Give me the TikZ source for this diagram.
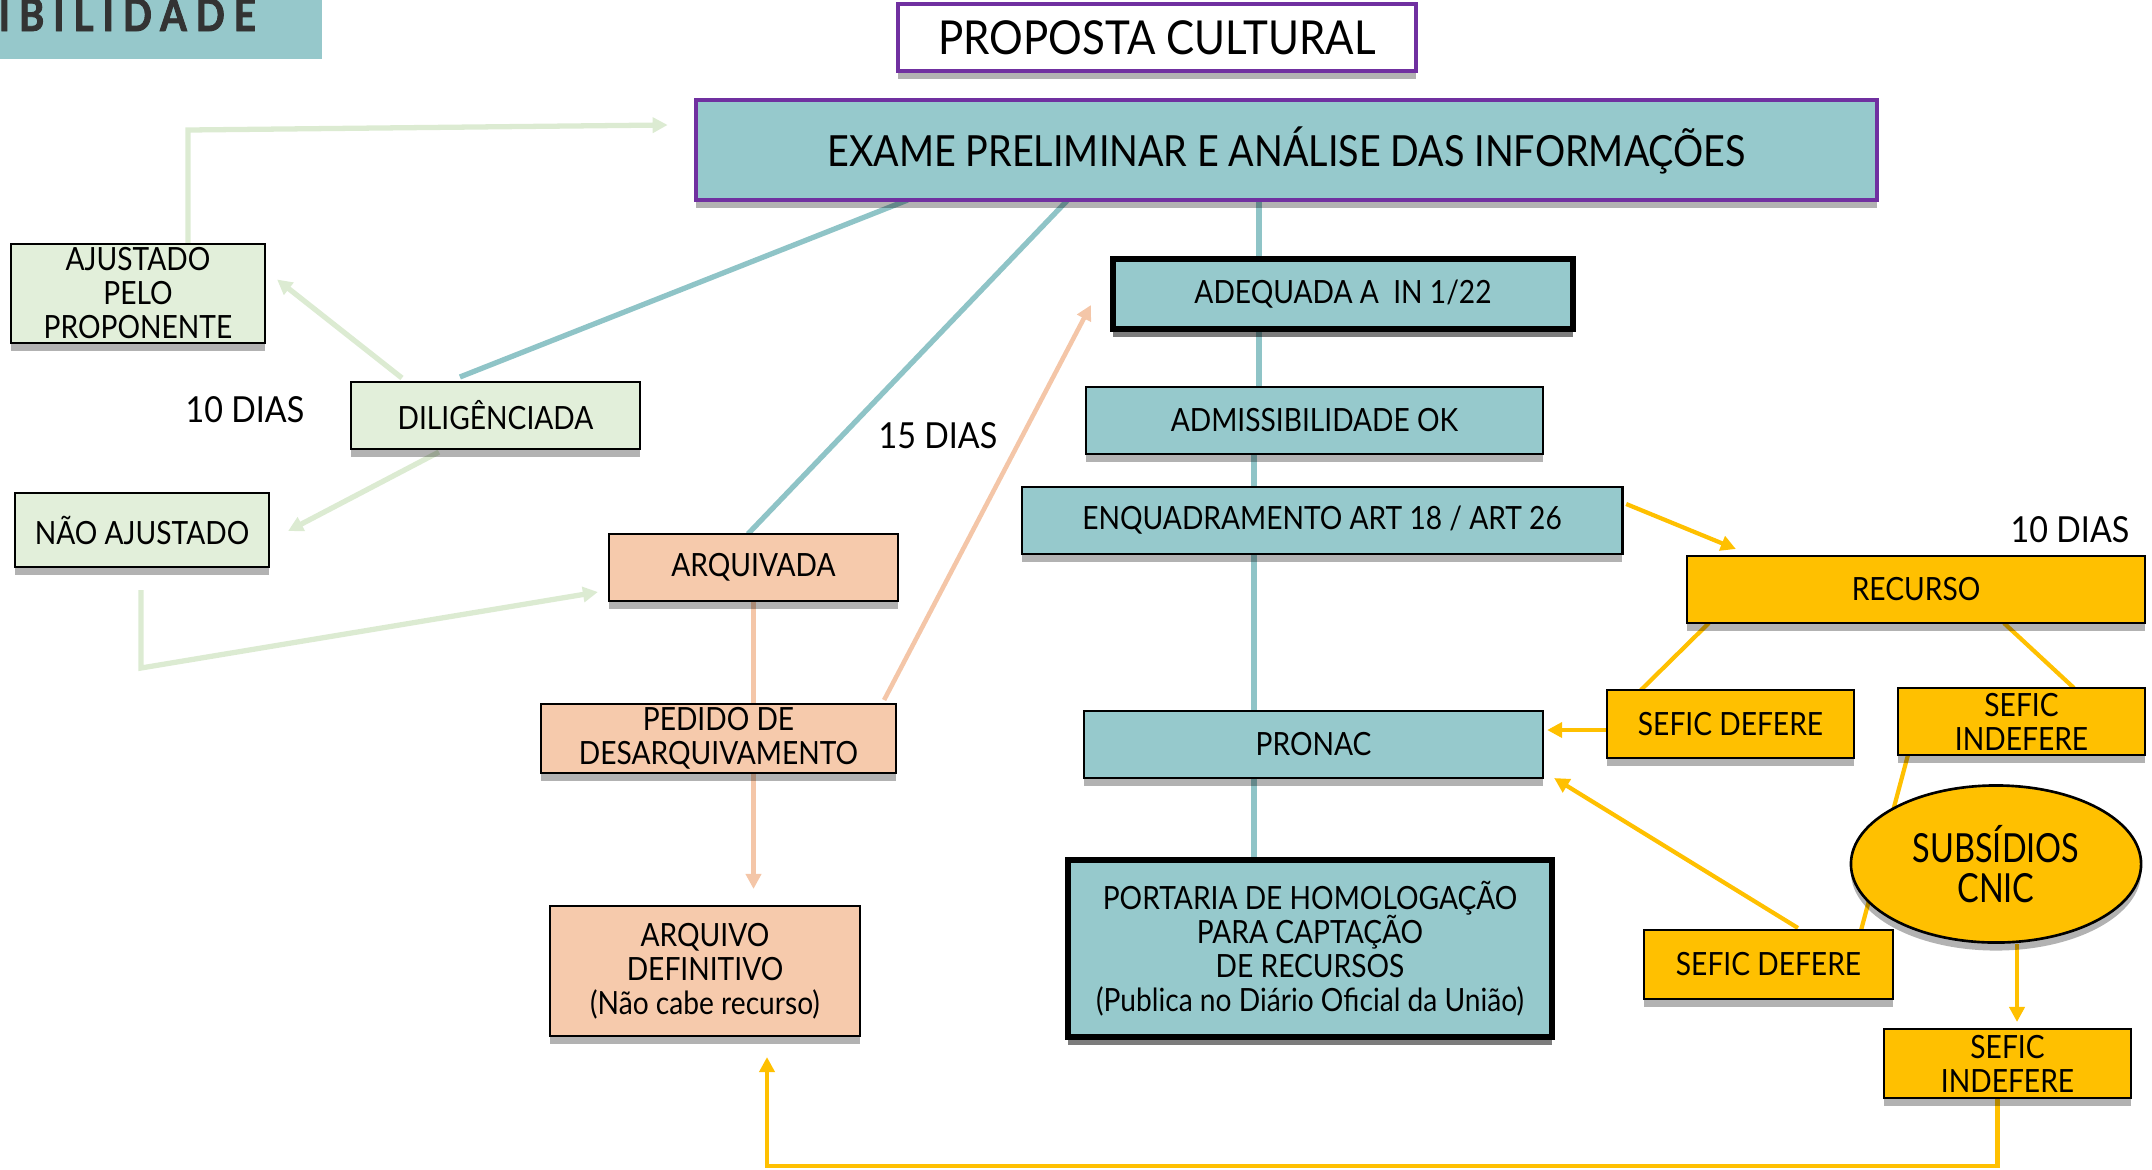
\documentclass[tikz,border=0pt]{standalone}
\usepackage{fontspec}
\setmainfont{Lato}
\newfontfamily\condf[FakeStretch=0.88]{Lato}
\newfontfamily\widef[FakeStretch=0.9]{Lato}
\newfontfamily\narf[FakeStretch=0.81]{Lato}
\newfontfamily\bannerf[FakeStretch=0.85,LetterSpace=20,FakeBold=2]{Lato}
\usetikzlibrary{arrows.meta,shapes.geometric,calc,shadows,backgrounds}
\definecolor{tealbox}{HTML}{96C9CC}
\definecolor{tealline}{HTML}{8FC4C7}
\definecolor{greenbox}{HTML}{E2EFDA}
\definecolor{greenline}{HTML}{DCEBD2}
\definecolor{salmonbox}{HTML}{F6CAAC}
\definecolor{salmonline}{HTML}{F4C6A8}
\definecolor{yel}{HTML}{FFC000}
\definecolor{purp}{HTML}{7030A0}
\definecolor{bannerc}{HTML}{96C8CB}
\definecolor{bannertxt}{HTML}{333333}
\newcommand\fpx[2]{\fontsize{#1pt}{#2pt}\selectfont}
\tikzset{
  shad/.style={drop shadow={shadow xshift=0pt, shadow yshift=-0.08cm, fill=black, opacity=0.3}},
  box/.style={draw=black, line width=0.75pt, inner sep=0pt, outer sep=0pt, align=center,
              shad, font=\condf\fpx{9.1}{9.67}},
  thickbox/.style={box, line width=1.8pt},
  tealnode/.style={box, fill=tealbox},
  greennode/.style={box, fill=greenbox},
  salmonnode/.style={box, fill=salmonbox},
  yelnode/.style={box, fill=yel},
  lbl/.style={inner sep=0pt, font=\widef\fpx{10.2}{10.2}},
  tline/.style={draw=tealline, line width=1.5pt},
  gline/.style={draw=greenline, line width=1.5pt},
  sline/.style={draw=salmonline, line width=1.3pt},
  yline/.style={draw=yel, line width=1.2pt},
  tip/.style={-{Triangle[length=0.15cm,width=0.15cm]}}
}
\begin{document}
\begin{tikzpicture}[x=0.01cm,y=-0.01cm]
\useasboundingbox (0,0) rectangle (2152,1169);
% banner
\fill[bannerc] (0,0) rectangle (322,59);
\node[anchor=base west, inner sep=0pt, text=bannertxt, font=\bannerf\bfseries\fpx{12.8}{12.8}] (banner) at (-2,31) {IBILIDADE};

% top
\node[box, draw=purp, line width=1pt, fill=white, minimum width=5.18cm, minimum height=0.67cm, font=\widef\fpx{13.3}{13.3}] (prop) at (1157,37.5) {PROPOSTA CULTURAL};
\node[box, draw=purp, line width=1.1pt, fill=tealbox, minimum width=11.81cm, minimum height=1cm, font=\condf\fpx{12.2}{12.2}] (exame) at (1286.5,150) {EXAME PRELIMINAR E ANÁLISE DAS INFORMAÇÕES};

% teal column
\node[tealnode, thickbox, fill=tealbox, minimum width=4.6cm, minimum height=0.7cm] (adeq) at (1343,294) {ADEQUADA A\ \ IN 1/22};
\node[tealnode, minimum width=4.57cm, minimum height=0.67cm] (admis) at (1314.5,420.5) {ADMISSIBILIDADE OK};
\node[tealnode, minimum width=6cm, minimum height=0.67cm] (enq) at (1322,520.5) {ENQUADRAMENTO ART 18 / ART 26};
\node[tealnode, minimum width=4.59cm, minimum height=0.67cm] (pronac) at (1313.5,744.5) {PRONAC};
\node[tealnode, thickbox, fill=tealbox, minimum width=4.84cm, minimum height=1.77cm] (port) at (1310,948.5) {PORTARIA DE HOMOLOGAÇÃO\\PARA CAPTAÇÃO\\DE RECURSOS\\(Publica no Diário Oficial da União)};

% green
\node[greennode, minimum width=2.54cm, minimum height=0.99cm] (ajust) at (138,293.5) {AJUSTADO\\PELO\\PROPONENTE};
\node[greennode, minimum width=2.89cm, minimum height=0.67cm] (dilig) at (495.5,415.5) {DILIGÊNCIADA};
\node[greennode, minimum width=2.54cm, minimum height=0.74cm] (nao) at (142,530) {NÃO AJUSTADO};
\node[lbl] (d10a) at (245,410) {10 DIAS};

% salmon
\node[salmonnode, minimum width=2.89cm, minimum height=0.67cm] (arqv) at (753.5,567.5) {ARQUIVADA};
\node[salmonnode, minimum width=3.55cm, minimum height=0.69cm] (ped) at (718.5,738.5) {PEDIDO DE\\DESARQUIVAMENTO};
\node[salmonnode, minimum width=3.1cm, minimum height=1.3cm] (arqdef) at (705,971) {ARQUIVO\\DEFINITIVO\\(Não cabe recurso)};
\node[lbl] (d15) at (938,436) {15 DIAS};

% yellow
\node[lbl] (d10b) at (2070,530) {10 DIAS};
\node[yelnode, minimum width=4.58cm, minimum height=0.67cm] (rec) at (1916,589.5) {RECURSO};
\node[yelnode, minimum width=2.47cm, minimum height=0.68cm] (def1) at (1730.5,724) {SEFIC DEFERE};
\node[yelnode, minimum width=2.47cm, minimum height=0.67cm] (ind1) at (2021.5,721.5) {SEFIC\\INDEFERE};
\node[yelnode, minimum width=2.49cm, minimum height=0.69cm] (def2) at (1768.5,964.5) {SEFIC DEFERE};
\node[yelnode, minimum width=2.47cm, minimum height=0.69cm] (ind2) at (2007.5,1063.5) {SEFIC\\INDEFERE};

% connectors behind
\begin{scope}[on background layer]
\draw[tline] ($(exame.south west)+(212,0)$) -- ($(dilig.north west)+(109,-5)$);
\draw[tline] ($(exame.south west)+(372,0)$) -- ($(arqv.north west)+(139,0)$);
\coordinate (vxa) at (1259,0);
\coordinate (vxb) at (1254,0);
\draw[tline] (exame.south -| vxa) -- (adeq.north -| vxa);
\draw[tline] (adeq.south -| vxa) -- (admis.north -| vxa);
\draw[tline] (admis.south -| vxb) -- (enq.north -| vxb);
\draw[tline] (enq.south -| vxb) -- (pronac.north -| vxb);
\draw[tline] (pronac.south -| vxb) -- (port.north -| vxb);

\coordinate (gc1) at (188,130);
\draw[gline, tip] (ajust.north -| gc1) -- (gc1) -- ($(exame.north west)+(-28,25)$);
\draw[gline, tip] ($(dilig.north west)+(51,-4)$) -- ($(ajust.east)+(12,-14)$);
\draw[gline, tip] ($(dilig.south west)+(88,3)$) -- ($(nao.east)+(19,1)$);
\coordinate (gc2) at (141,668);
\draw[gline, tip] ($(nao.south)+(-1,23)$) -- (gc2) -- ($(arqv.west)+(-11,24.5)$);

\draw[sline] (arqv.south) -- (ped.north -| arqv.south);
\draw[sline, tip] (ped.south -| arqv.south) -- ($(arqdef.north -| arqv.south)+(0,-17)$);
\draw[sline, tip] ($(ped.north east)+(-12,-4)$) -- ($(adeq.west)+(-22,11)$);

\draw[yline, tip] ($(enq.north east)+(4,17)$) -- ($(rec.north west)+(49,-7)$);
\draw[yline] ($(rec.south west)+(22,0)$) -- ($(def1.north west)+(34,0)$);
\draw[yline] ($(rec.south west)+(317,0)$) -- ($(ind1.north west)+(176,0)$);
\draw[yline, tip] ($(def1.west)+(0,6)$) -- ($(pronac.east |- def1.west)+(4,6)$);
\draw[yline] ($(ind1.south west)+(10,0)$) -- ($(def2.north east)+(-32,0)$);
\draw[yline, tip] ($(def2.north west)+(154,-2)$) -- ($(pronac.south east)+(11,0)$);
\end{scope}

\node[ellipse, draw=black, line width=0.75pt, fill=yel, inner sep=0pt, minimum width=2.9cm, minimum height=1.57cm, align=center, shad, font=\narf\fpx{11.4}{11.4}] (cnic) at (1996,864) {SUBSÍDIOS\\CNIC};

\begin{scope}[on background layer]
\draw[yline, tip] ($(cnic.south)+(21,0)$) -- ($(ind2.north)+(9.5,-7)$);
\coordinate (ybot) at (0,1166);
\draw[yline, tip] ($(ind2.south)+(-10,0)$) -- (ybot -| {$(ind2.south)+(-10,0)$}) -| ($(arqdef.south)+(62,21)$);
\end{scope}
\end{tikzpicture}
\end{document}
